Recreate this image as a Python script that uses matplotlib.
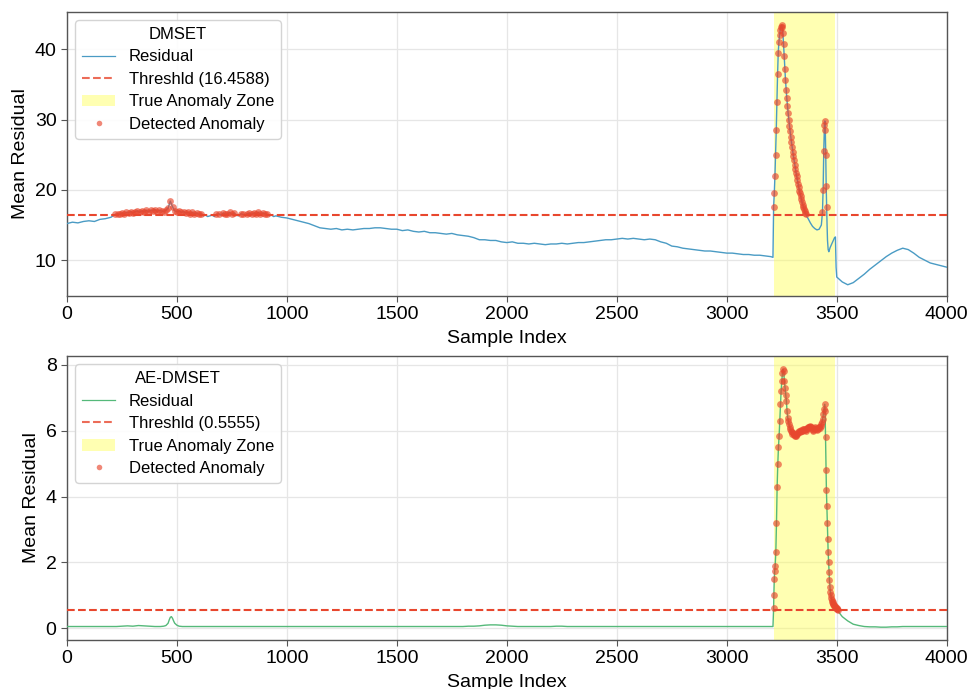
import numpy as np
import matplotlib
matplotlib.use("Agg")
import matplotlib.pyplot as plt
from matplotlib.lines import Line2D
from matplotlib.patches import Patch

plt.rcParams['font.family'] = ['Liberation Sans', 'DejaVu Sans']

# ---------------- DMSET (top) ----------------
dm_threshold = 16.4588
dm_zone = (3213, 3494)

dm_x_a = list(range(0, 201, 25))
dm_y_a = [15.2, 15.4, 15.3, 15.5, 15.6, 15.5, 15.8, 15.9, 16.1]

dm_x_b = list(range(210, 951, 10))
dm_y_b = [16.3, 16.5, 16.6, 16.5, 16.7, 16.6, 16.8, 16.7, 16.9, 16.7,
          16.9, 17.0, 16.8, 17.0, 16.9, 17.1, 16.9, 17.1, 17.0, 17.2,
          16.9, 17.1, 17.0, 16.9, 17.1, 17.4, 18.4, 17.6, 17.0, 16.9,
          17.0, 16.8, 16.9, 16.7, 16.8, 16.6, 16.8, 16.6, 16.7, 16.5,
          16.6, 16.3, 16.4, 16.2, 16.3, 16.4, 16.2, 16.5, 16.6, 16.4,
          16.7, 16.5, 16.6, 16.8, 16.5, 16.7, 16.4, 16.3, 16.6, 16.5,
          16.4, 16.6, 16.7, 16.5, 16.7, 16.6, 16.8, 16.5, 16.7, 16.6,
          16.5, 16.3, 16.4, 16.2, 16.3]

dm_x_c = list(range(975, 3201, 25)) + [3210]
dm_y_c = [16.1, 16.0, 15.8, 15.6, 15.4, 15.2, 14.9, 14.6, 14.5, 14.4,
          14.5, 14.3, 14.4, 14.3, 14.4, 14.5, 14.5, 14.6, 14.6, 14.5,
          14.4, 14.4, 14.2, 14.3, 14.1, 14.0, 14.1, 13.9, 13.9, 13.8,
          13.7, 13.8, 13.6, 13.5, 13.4, 13.2, 12.9, 12.9, 12.8, 12.8,
          12.6, 12.5, 12.6, 12.4, 12.4, 12.3, 12.4, 12.3, 12.2, 12.3,
          12.3, 12.4, 12.3, 12.4, 12.5, 12.5, 12.6, 12.7, 12.8, 12.9,
          12.9, 13.0, 13.1, 13.0, 13.1, 13.0, 12.9, 13.0, 12.9, 12.6,
          12.4, 12.0, 11.9, 11.7, 11.6, 11.5, 11.4, 11.3, 11.3, 11.2,
          11.1, 11.0, 11.0, 10.9, 10.8, 10.8, 10.7, 10.7, 10.6, 10.5,
          10.4]

dm_x_d = list(range(3213, 3367, 3)) + [3370, 3380, 3390, 3400, 3410, 3420, 3430,
                                        3435, 3438, 3441, 3444, 3446, 3448, 3450,
                                        3452, 3454, 3456, 3458, 3461, 3464, 3470,
                                        3480, 3490, 3494, 3497, 3500]
dm_y_d = [17.6, 19.5, 22.0, 25.0, 28.5, 32.5, 36.5, 39.5, 41.0, 42.0,
          42.8, 43.2, 43.4, 43.1, 42.3, 40.8, 39.0, 37.2, 35.6, 34.2,
          33.0, 31.9, 30.9, 30.0, 29.1, 28.3, 27.5, 26.8, 26.1, 25.4,
          24.8, 24.2, 23.6, 23.0, 22.4, 21.9, 21.4, 20.9, 20.4, 19.9,
          19.5, 19.1, 18.7, 18.3, 17.9, 17.6, 17.3, 17.0, 16.7, 16.5,
          16.3, 16.1,
          15.9, 15.3, 14.8, 14.5, 14.3, 14.4, 15.0,
          16.8, 20.0, 25.5, 29.2, 29.8, 28.5, 25.0,
          20.5, 17.5, 15.0, 12.8, 11.5, 11.2, 11.8,
          12.5, 13.2, 13.3, 9.0, 7.6]

dm_x_e = list(range(3525, 4001, 25))
dm_y_e = [6.9, 6.5, 6.8, 7.4, 8.0, 8.7, 9.3, 9.9, 10.5, 11.0,
          11.4, 11.7, 11.5, 11.0, 10.4, 10.0, 9.6, 9.4, 9.2, 9.0]

# ---------------- AE-DMSET (bottom) ----------------
ae_threshold = 0.5555
ae_zone = (3213, 3494)

ae_x_a = list(range(0, 426, 25))
ae_y_a = [0.05, 0.05, 0.05, 0.05, 0.05, 0.05, 0.05, 0.05, 0.05, 0.05,
          0.06, 0.07, 0.06, 0.08, 0.07, 0.06, 0.05, 0.05]

ae_x_b = [440, 450, 460, 465, 470, 475, 480, 485, 490, 500, 510]
ae_y_b = [0.06, 0.08, 0.15, 0.25, 0.33, 0.35, 0.30, 0.22, 0.15, 0.09, 0.06]

ae_x_c = list(range(525, 3201, 25)) + [3210]
ae_y_c = [0.05, 0.05, 0.05, 0.05, 0.05, 0.05, 0.05, 0.05, 0.05, 0.05,
          0.05, 0.05, 0.05, 0.05, 0.05, 0.05, 0.05, 0.05, 0.05, 0.05,
          0.05, 0.05, 0.05, 0.05, 0.05, 0.05, 0.05, 0.05, 0.05, 0.05,
          0.05, 0.05, 0.05, 0.05, 0.05, 0.05, 0.05, 0.05, 0.05, 0.05,
          0.05, 0.05, 0.05, 0.05, 0.05, 0.05, 0.05, 0.05, 0.05, 0.05,
          0.05, 0.05, 0.06, 0.06,
          0.07, 0.09, 0.10, 0.10, 0.09, 0.07,
          0.06, 0.05, 0.05, 0.05, 0.05, 0.05, 0.05, 0.05, 0.06, 0.06,
          0.05, 0.05, 0.05, 0.05, 0.05, 0.05, 0.05, 0.05, 0.05, 0.05,
          0.05, 0.05, 0.05, 0.05, 0.05, 0.05, 0.05, 0.05, 0.05, 0.05,
          0.05, 0.05, 0.05, 0.05, 0.05, 0.05, 0.05, 0.05, 0.05, 0.05,
          0.05, 0.05, 0.05, 0.05, 0.05, 0.05, 0.05, 0.05,
          0.05]

ae_x_d = [3213, 3214, 3216, 3218, 3220, 3223, 3226, 3229, 3232, 3235, 3238,
          3241, 3244, 3247, 3250, 3253, 3256, 3259, 3262, 3265, 3268, 3271,
          3274, 3277, 3280, 3283, 3286, 3289, 3292, 3295, 3298, 3301, 3304,
          3307, 3310, 3313, 3316, 3319, 3322, 3325, 3328, 3331, 3334, 3337,
          3340, 3343, 3346, 3349, 3352, 3355, 3358, 3361, 3364, 3367, 3370,
          3373, 3376, 3379, 3382, 3385, 3388, 3391, 3394, 3397, 3400, 3403,
          3406, 3409, 3412, 3415, 3418, 3421, 3424, 3427, 3430, 3433, 3436,
          3439, 3442, 3445, 3447, 3449, 3451, 3453, 3455, 3457, 3459, 3461,
          3463, 3465, 3467, 3469, 3471, 3473, 3475, 3477, 3479, 3481, 3483,
          3485, 3487, 3489, 3491, 3493, 3495, 3497, 3499, 3501, 3503, 3505]
ae_y_d = [0.60, 1.00, 1.50, 1.75, 1.90, 2.30, 3.20, 4.30, 5.00, 5.50, 5.85,
          6.30, 6.80, 7.20, 7.50, 7.75, 7.87, 7.80, 7.50, 7.30, 7.10, 6.90,
          6.60, 6.40, 6.30, 6.20, 6.10, 6.05, 6.00, 5.95, 5.90, 5.92, 5.88,
          5.90, 5.85, 5.87, 5.85, 5.90, 5.93, 5.95, 5.98, 5.96, 6.00, 6.02,
          5.98, 6.00, 6.05, 6.03, 6.06, 6.02, 6.05, 6.00, 6.05, 6.08, 6.10,
          6.12, 6.10, 6.15, 6.12, 6.10, 6.05, 6.00, 6.03, 6.08, 6.05, 6.10,
          6.05, 6.08, 6.03, 6.06, 6.10, 6.12, 6.08, 6.15, 6.20, 6.25, 6.35,
          6.50, 6.65, 6.80, 6.60, 5.80, 4.80, 4.20, 3.70, 3.20, 2.70, 2.30,
          2.00, 1.70, 1.45, 1.25, 1.10, 1.00, 0.92, 0.85, 0.80, 0.78, 0.74,
          0.72, 0.70, 0.68, 0.66, 0.64, 0.62, 0.60, 0.58, 0.60, 0.57, 0.56]

ae_x_e = [3510, 3525, 3550, 3575, 3600, 3625, 3650, 3675, 3700, 3725, 3750,
          3775, 3800, 3825, 3850, 3875, 3900, 3925, 3950, 3975, 4000]
ae_y_e = [0.48, 0.35, 0.22, 0.12, 0.08, 0.05, 0.04, 0.04, 0.03, 0.03, 0.04,
          0.04, 0.05, 0.05, 0.05, 0.05, 0.05, 0.05, 0.05, 0.05, 0.05]

x_ticks = [0, 500, 1000, 1500, 2000, 2500, 3000, 3500, 4000]

RED = '#e8472e'


def panel(ax, xs, ys, thr, zone, line_color, title, ylim, yticks):
    x = np.concatenate([np.asarray(v, float) for v in xs])
    y = np.concatenate([np.asarray(v, float) for v in ys])
    order = np.argsort(x, kind='stable')
    x, y = x[order], y[order]
    ax.axvspan(zone[0], zone[1], color='#ffff55', alpha=0.45, lw=0, zorder=1)
    ax.plot(x, y, color=line_color, lw=1.0, zorder=3)
    ax.axhline(thr, color=RED, ls='--', lw=1.5, zorder=4)
    m = y > thr
    ax.scatter(x[m], y[m], s=24, color=RED, alpha=0.65, lw=0, zorder=5)
    ax.set_xlim(0, 4000)
    ax.set_ylim(*ylim)
    ax.set_xticks(x_ticks)
    ax.set_yticks(yticks)
    ax.grid(True, color='#e6e6e6', lw=0.9)
    ax.set_axisbelow(True)
    for s in ax.spines.values():
        s.set_color('#555555')
        s.set_linewidth(1.0)
    ax.tick_params(labelsize=14, length=4, color='#555555')
    ax.set_xlabel('Sample Index', fontsize=14, labelpad=4.5)
    ax.set_ylabel('Mean Residual', fontsize=14)
    handles = [
        Line2D([], [], color=line_color, lw=0.9),
        Line2D([], [], color=RED, ls='--', lw=1.5, alpha=0.8),
        Patch(facecolor='#ffff55', alpha=0.45, lw=0),
        Line2D([], [], color=RED, marker='o', ls='None', markersize=4,
               alpha=0.65, markeredgewidth=0),
    ]
    labels = ['Residual', f'Threshld ({thr})', 'True Anomaly Zone',
              'Detected Anomaly']
    leg = ax.legend(handles, labels, loc='upper left', title=title,
                    fontsize=12, title_fontsize=12, frameon=True,
                    fancybox=True, framealpha=0.9, edgecolor='#d0d0d0',
                    borderaxespad=0.5, labelspacing=0.45)
    leg.set_zorder(10)


fig = plt.figure(figsize=(9.7, 6.89), dpi=100)
ax1 = fig.add_axes([0.069, 0.5704, 0.907, 0.4122])
ax2 = fig.add_axes([0.069, 0.0711, 0.907, 0.4122])

panel(ax1, [dm_x_a, dm_x_b, dm_x_c, dm_x_d, dm_x_e],
      [dm_y_a, dm_y_b, dm_y_c, dm_y_d, dm_y_e],
      dm_threshold, dm_zone, '#4a9bc4', 'DMSET', (4.9, 45.3), [10, 20, 30, 40])
panel(ax2, [ae_x_a, ae_x_b, ae_x_c, ae_x_d, ae_x_e],
      [ae_y_a, ae_y_b, ae_y_c, ae_y_d, ae_y_e],
      ae_threshold, ae_zone, '#55b97a', 'AE-DMSET', (-0.36, 8.27), [0, 2, 4, 6, 8])

fig.savefig('out.png', dpi=100)
